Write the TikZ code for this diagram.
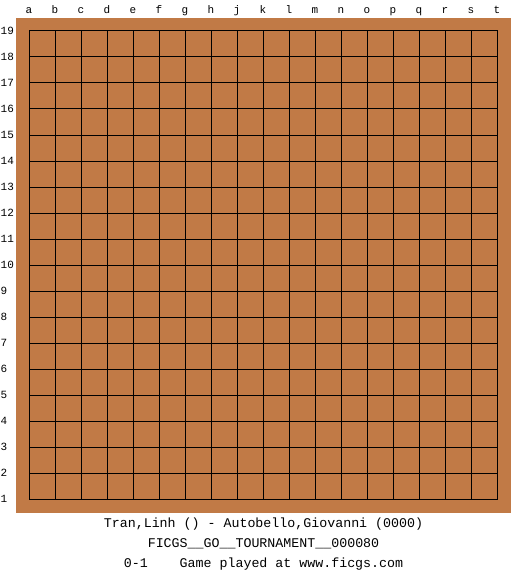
\documentclass[tikz,border=0pt]{standalone}
\usepackage{fontspec}
\setmonofont{Liberation Mono}
\definecolor{boardbrown}{RGB}{193,122,70}
\begin{document}
\begin{tikzpicture}[
x=1pt, y=-1pt,
every node/.style={inner sep=0pt, font=\ttfamily},
coord/.style={font=\ttfamily\fontsize{11}{12}\selectfont, text height=7pt, text depth=0pt},
info/.style={font=\ttfamily\fontsize{13.3}{15}\selectfont, text height=9pt, text depth=2pt}
]
\useasboundingbox (0,0) rectangle (525,575);
\fill[boardbrown] (16,18) rectangle (511,513);
\foreach \i in {0,...,18} {
  \draw[line width=1pt, line cap=rect] (29+26*\i,31) -- (29+26*\i,499);
  \draw[line width=1pt, line cap=rect] (29,31+26*\i) -- (497,31+26*\i);
}
\foreach \l [count=\i from 0] in {a,b,c,d,e,f,g,h,j,k,l,m,n,o,p,q,r,s,t}
  \node[coord] (col-\l) at (29+26*\i,10.5) {\l};
\foreach \n in {1,...,19}
  \node[coord, anchor=west] (row-\n) at (0.5,499-26*\n+26) {\n};
\node[info] (players) at (263.5,524) {Tran,Linh () - Autobello,Giovanni (0000)};
\node[info] (event) at (263.5,544) {FICGS\_\_GO\_\_TOURNAMENT\_\_000080};
\node[info] (result) at (263.5,564) {0-1\ \ \ \ Game played at www.ficgs.com};
\end{tikzpicture}
\end{document}
